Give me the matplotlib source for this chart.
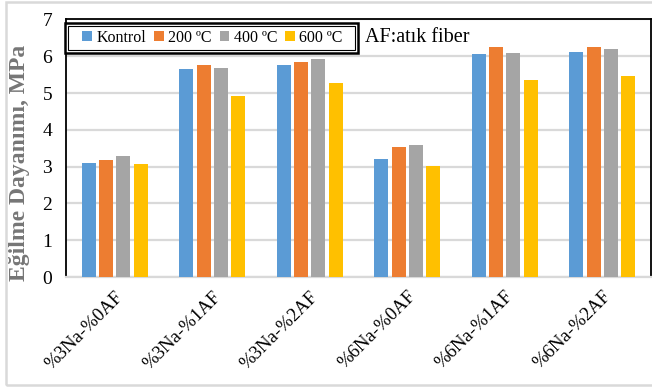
import matplotlib
matplotlib.use("Agg")
import matplotlib.pyplot as plt
import numpy as np
from matplotlib.patches import Rectangle

categories = ["%3Na-%0AF", "%3Na-%1AF", "%3Na-%2AF", "%6Na-%0AF", "%6Na-%1AF", "%6Na-%2AF"]
series_names = ["Kontrol", "200 ºC", "400 ºC", "600 ºC"]
kontrol = [3.11, 5.65, 5.76, 3.20, 6.06, 6.12]
t200 = [3.17, 5.76, 5.84, 3.54, 6.26, 6.26]
t400 = [3.29, 5.67, 5.92, 3.58, 6.09, 6.20]
t600 = [3.08, 4.92, 5.26, 3.02, 5.35, 5.46]
colors = ["#5B9BD5", "#ED7D31", "#A5A5A5", "#FFC000"]
y_ticks = [0, 1, 2, 3, 4, 5, 6, 7]

serif = ["Liberation Serif", "DejaVu Serif"]
plt.rcParams["font.family"] = serif

W, H = 652, 390
fig = plt.figure(figsize=(W / 100, H / 100), dpi=100)
ax = fig.add_axes([66 / W, 1 - 277 / H, (651 - 66) / W, (277 - 19.4) / H])

x = np.arange(len(categories))
pitch = 0.178
width = 0.145
series = [kontrol, t200, t400, t600]
handles = []
for i, (vals, c, name) in enumerate(zip(series, colors, series_names)):
    b = ax.bar(x + (i - 1.5) * pitch, vals, width, color=c, label=name, zorder=3)
    handles.append(b)

ax.set_xlim(-0.5, len(categories) - 0.5)
ax.set_ylim(0, 7)
ax.set_yticks(y_ticks)
ax.set_yticklabels([str(t) for t in y_ticks], fontsize=14)
ax.set_xticks(x)
ax.set_xticklabels(categories, rotation=45, ha="right", rotation_mode="anchor", fontsize=13.5)
ax.tick_params(axis="x", length=0, pad=8)
ax.tick_params(axis="y", length=0, pad=10)
ax.yaxis.grid(True, color="#D9D9D9", linewidth=1.6, zorder=0)
ax.set_axisbelow(True)

for side in ("left", "top", "right"):
    ax.spines[side].set_color("black")
    ax.spines[side].set_linewidth(1.3)
ax.spines["bottom"].set_color("#D9D9D9")
ax.spines["bottom"].set_linewidth(1.6)

fig.text(20 / W, 1 - 163 / H, "Eğilme Dayanımı, MPa", rotation=90, ha="center", va="center",
         fontsize=17, fontweight="bold", color="#767676")

# legend with a double border
lx0, lx1, ly0, ly1 = 65 / W, 358 / W, 1 - 53 / H, 1 - 23 / H
leg = fig.legend(handles=handles, labels=series_names, ncol=4, loc="center",
                 bbox_to_anchor=(lx0 + 6 / W, ly0, lx1 - lx0 - 10 / W, ly1 - ly0), mode="expand",
                 fontsize=11.5, frameon=False, handlelength=0.6, handleheight=0.6,
                 handletextpad=0.3, columnspacing=1.0, borderaxespad=0.3)
fig.patches.append(Rectangle((lx0, ly0), lx1 - lx0, ly1 - ly0, transform=fig.transFigure,
                             fill=True, facecolor="white", edgecolor="black", linewidth=1.8, zorder=4))
fig.patches.append(Rectangle((lx0 + 3 / W, ly0 + 3 / H), lx1 - lx0 - 6 / W, ly1 - ly0 - 6 / H,
                             transform=fig.transFigure, fill=False, edgecolor="black",
                             linewidth=0.8, zorder=4))
leg.set_zorder(5)

fig.text(365 / W, 1 - 38 / H, "AF:atık fiber", ha="left", va="center", fontsize=14.5)

# light outer chart border
fig.patches.append(Rectangle((6 / W, 1 - 385 / H), 700 / W, (385 - 1.5) / H,
                             transform=fig.transFigure, fill=False, edgecolor="#D9D9D9",
                             linewidth=1.8, zorder=0))

fig.savefig("out.png", dpi=100)
